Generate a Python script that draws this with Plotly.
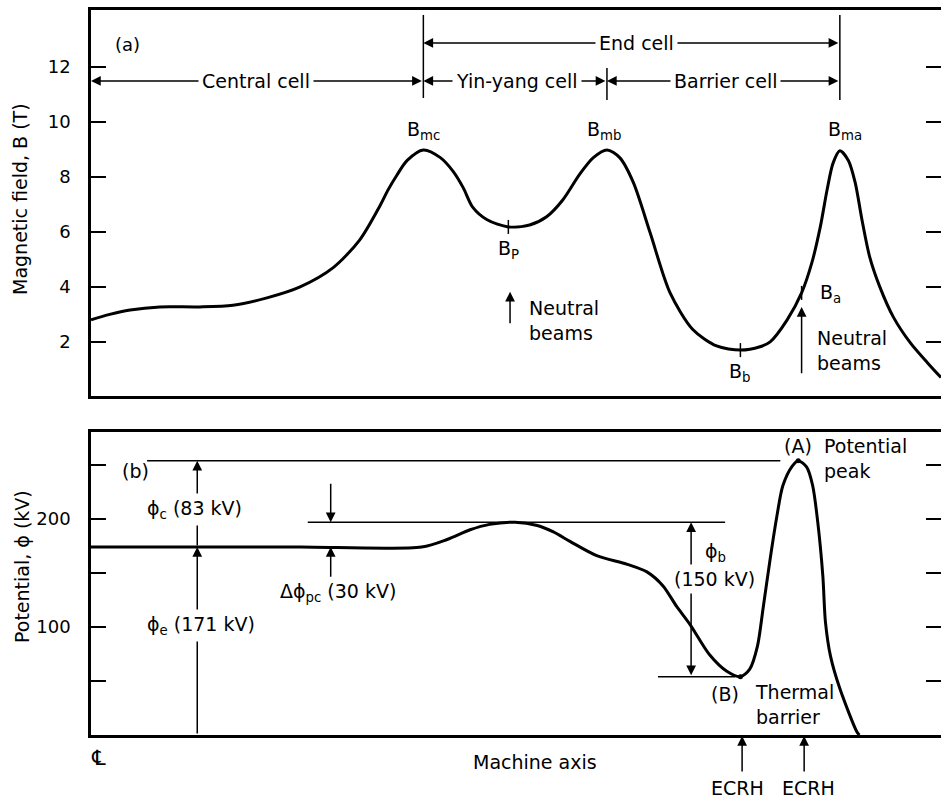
import plotly.graph_objects as go

FONT = "DejaVu Sans"

# ---------------- data ----------------
# machine-axis position (arbitrary units, 0 = centre line)
field_x = [0, 2.2, 4.6, 8.1, 12.8, 16.7, 20.7, 24.6, 28.5, 31.6, 34.0, 34.9, 36.0, 37.2,
           39.1, 41.1, 42.6, 43.8, 44.9, 46.6, 49.1, 51.6, 53.6, 55.5, 57.5, 59.1, 60.7,
           62.2, 63.8, 65.8, 68.1, 70.8, 73.6, 76.4, 78.7, 79.9, 81.9, 83.6, 84.8, 85.8,
           86.6, 87.3, 88.1, 89.1, 89.9, 90.7, 91.6, 92.8, 94.4, 96.4, 98.4, 100]
field_B = [2.8, 3.0, 3.16, 3.27, 3.27, 3.33, 3.6, 4.0, 4.7, 5.7, 6.95, 7.5, 8.07, 8.6,
           8.98, 8.7, 8.2, 7.6, 6.9, 6.44, 6.18, 6.25, 6.55, 7.16, 8.1, 8.7, 8.98,
           8.7, 7.8, 5.95, 3.8, 2.45, 1.85, 1.7, 1.82, 2.0, 2.8, 3.78, 4.87, 6.18,
           7.53, 8.5, 8.95, 8.6, 7.8, 6.44, 5.1, 4.0, 2.9, 1.96, 1.24, 0.7]

pot_x = [0, 12.8, 24.6, 38.9, 41.9, 44.6, 46.9, 49.9, 52.5, 54.4, 56.4, 59.5, 63.1, 65.4,
         67.3, 68.9, 70.5, 72.8, 74.8, 76.4, 77.5, 78.4, 79.1, 79.9, 80.7, 81.4, 82.5,
         83.2, 84.2, 84.9, 85.5, 86.1, 86.4, 87.0, 88.1, 90.1, 90.4]
pot_phi = [174, 174, 174, 174, 181, 190, 195, 197, 194, 188, 179, 166, 158, 151,
           138, 119, 102, 74, 59, 54, 61, 82, 119, 163, 203, 231, 249,
           254, 248, 231, 197, 147, 105, 73, 43, 3, 0]

# named points on the field profile
peak_labels = ["B<sub>mc</sub>", "B<sub>mb</sub>", "B<sub>ma</sub>"]
peak_x = [39.1, 60.7, 88.1]
peak_B = [8.98, 8.98, 8.95]
mark_labels = ["B<sub>P</sub>", "B<sub>b</sub>", "B<sub>a</sub>"]
mark_x = [49.1, 76.4, 83.6]
mark_B = [6.18, 1.7, 3.78]

# named points on the potential profile
pot_mark_x = [83.2, 76.4]
pot_mark_phi = [254, 54]

phi_peak, phi_plug, phi_central, phi_barrier = 254, 197, 174, 54

cells = ["Central cell", "Yin-yang cell", "Barrier cell"]
cell_edges = [0, 39.1, 60.7, 88.1]
beam_x = [49.3, 83.6]
ecrh_x = [76.6, 83.9]

B_ticks = [2, 4, 6, 8, 10, 12]
phi_ticks = [50, 100, 150, 200, 250]
phi_ticktext = ["", "100", "", "200", ""]

# ---------------- figure ----------------
W, H = 941, 798
def px(v):  # pixel x -> paper
    return v / W
def py(v):  # pixel y -> paper
    return 1 - v / H

x_dom = [px(91), 1.0]
top_dom = [py(396), py(10)]
bot_dom = [py(735), py(432)]
B_range = [0.03, 14.07]
phi_range = [0, 280.5]

fig = go.Figure()
curve = dict(color="black", width=3, shape="spline", smoothing=0.8)
fig.add_trace(go.Scatter(x=field_x, y=field_B, mode="lines", line=curve,
                         xaxis="x", yaxis="y", hoverinfo="skip"))
fig.add_trace(go.Scatter(x=mark_x, y=mark_B, mode="markers",
                         marker=dict(symbol="line-ns", size=10, color="black",
                                     line=dict(width=1.5, color="black")),
                         xaxis="x", yaxis="y", hoverinfo="skip"))
fig.add_trace(go.Scatter(x=pot_x, y=pot_phi, mode="lines", line=curve,
                         xaxis="x2", yaxis="y2", hoverinfo="skip"))
fig.add_trace(go.Scatter(x=pot_mark_x, y=pot_mark_phi, mode="markers",
                         marker=dict(symbol="circle", size=5, color="black"),
                         xaxis="x2", yaxis="y2", hoverinfo="skip"))
fig.add_trace(go.Scatter(x=[None], y=[None], xaxis="x", yaxis="y3", hoverinfo="skip"))
fig.add_trace(go.Scatter(x=[None], y=[None], xaxis="x2", yaxis="y4", hoverinfo="skip"))

xax = dict(range=[0, 100], showline=True, linewidth=2.5, linecolor="black", mirror=True,
           ticks="", showticklabels=False, showgrid=False, zeroline=False, domain=x_dom)
yax = dict(showline=True, linewidth=2.5, linecolor="black", ticks="inside", ticklen=15,
           tickwidth=2, tickcolor="black", showgrid=False, zeroline=False,
           tickfont=dict(family=FONT, size=18, color="black"), ticklabelstandoff=14)
yax_r = dict(showline=False, ticks="inside", ticklen=15, tickwidth=2, tickcolor="black",
             showticklabels=False, showgrid=False, zeroline=False, side="right")

fig.update_layout(
    width=W, height=H, margin=dict(l=0, r=0, t=0, b=0),
    paper_bgcolor="white", plot_bgcolor="white", showlegend=False,
    font=dict(family=FONT, size=19, color="black"),
    xaxis=dict(xax, anchor="y"),
    xaxis2=dict(xax, anchor="y2"),
    yaxis=dict(yax, domain=top_dom, range=B_range, tickvals=B_ticks, anchor="x"),
    yaxis2=dict(yax, domain=bot_dom, range=phi_range, tickvals=phi_ticks,
                ticktext=phi_ticktext, anchor="x2"),
    yaxis3=dict(yax_r, overlaying="y", range=B_range, tickvals=B_ticks, anchor="x"),
    yaxis4=dict(yax_r, overlaying="y2", range=phi_range, tickvals=phi_ticks, anchor="x2"),
)

ann = []
shapes = []

def text(x, y, t, xref="x", yref="y", xanchor="center", yanchor="middle", size=19,
         bg=None, angle=0, align="center"):
    d = dict(x=x, y=y, text=t, xref=xref, yref=yref, xanchor=xanchor, yanchor=yanchor,
             showarrow=False, font=dict(family=FONT, size=size, color="black"),
             textangle=angle, align=align)
    if bg:
        d.update(bgcolor=bg, borderpad=3)
    ann.append(d)

def arrow(x, y, ax, ay, xref="x", yref="y", double=False, pixel=False):
    d = dict(x=x, y=y, ax=ax, ay=ay, xref=xref, yref=yref, text="", showarrow=True,
             arrowhead=2, arrowsize=1.3, arrowwidth=1.5, arrowcolor="black",
             standoff=0, startstandoff=0)
    if double:
        d.update(arrowside="end+start", startarrowhead=2, startarrowsize=1.3)
    if not pixel:
        d.update(axref=xref, ayref=yref)
    ann.append(d)

def line(x0, y0, x1, y1, xref="x", yref="y", w=1.5):
    shapes.append(dict(type="line", x0=x0, y0=y0, x1=x1, y1=y1, xref=xref, yref=yref,
                       line=dict(color="black", width=w)))

# ---- panel (a) ----
text(2.6, 12.8, "(a)", xanchor="left", size=18)
row_end, row_cell = 12.87, 11.49
arrow(cell_edges[1], row_end, cell_edges[3], row_end, double=True)
text((cell_edges[1] + cell_edges[3]) / 2 + 0.6, row_end, "End cell", bg="white")
centres = [19.4, 50.1, 74.7]
for i, name in enumerate(cells):
    arrow(cell_edges[i], row_cell, cell_edges[i + 1], row_cell, double=True)
    text(centres[i], row_cell, name, bg="white")
line(cell_edges[1], 10.87, cell_edges[1], 13.89)
line(cell_edges[2], 10.8, cell_edges[2], 11.96)
line(cell_edges[3], 10.8, cell_edges[3], 13.89)

peak_lab_x = [39.1, 60.3, 88.7]
for lab, xx, yy in zip(peak_labels, peak_lab_x, peak_B):
    text(xx, yy + 0.72, lab)
text(mark_x[0], 5.35, mark_labels[0])
text(mark_x[1], 0.87, mark_labels[1])
text(85.5, 3.75, mark_labels[2], xanchor="left")

arrow(beam_x[0], 3.82, beam_x[0], 2.62)
text(51.3, 2.76, "Neutral<br>beams", xanchor="left", align="left")
arrow(beam_x[1], 3.27, beam_x[1], 0.8)
text(85.2, 1.67, "Neutral<br>beams", xanchor="left", align="left")

# ---- panel (b) ----
text(3.4, 244, "(b)", xref="x2", yref="y2", xanchor="left")
line(6.6, phi_peak, 81.1, phi_peak, "x2", "y2")
line(25.5, phi_plug, 74.6, phi_plug, "x2", "y2")
line(66.7, phi_barrier, 75.8, phi_barrier, "x2", "y2")

arrow(12.5, phi_peak, 12.5, phi_central, "x2", "y2")
arrow(12.5, phi_central, 12.5, 0, "x2", "y2")
text(6.1, 209, "ϕ<sub>c</sub> (83 kV)", "x2", "y2", xanchor="left", bg="white")
text(6.1, 101, "ϕ<sub>e</sub> (171 kV)", "x2", "y2", xanchor="left", bg="white")

arrow(28.2, phi_plug, 28.2, 234, "x2", "y2")
arrow(28.2, phi_central, 28.2, 145, "x2", "y2")
text(22.0, 132, "Δϕ<sub>pc</sub> (30 kV)", "x2", "y2", xanchor="left")

arrow(70.6, phi_plug, 70.6, phi_barrier, "x2", "y2", double=True)
text(72.0, 169, "ϕ<sub>b</sub>", "x2", "y2", xanchor="left")
text(73.4, 144, "(150 kV)", "x2", "y2", bg="white")

text(83.2, 267.6, "(A)", "x2", "y2")
text(86.0, 256, "Potential<br>peak", "x2", "y2", xanchor="left", align="left")
text(74.6, 38, "(B)", "x2", "y2")
text(77.9, 27.8, "Thermal<br>barrier", "x2", "y2", xanchor="left", align="left")

# ---- below the axis ----
text(px(98), py(758), "℄", "paper", "paper", size=21)
text(px(471), py(762), "Machine axis", "paper", "paper", xanchor="left")
for xx in ecrh_x:
    arrow(xx, py(736), 0, 37, "x2", "paper", pixel=True)
text(76.0, py(788), "ECRH", "x2", "paper")
text(84.4, py(788), "ECRH", "x2", "paper")

# ---- axis titles ----
text(px(20), py(199), "Magnetic field, B (T)", "paper", "paper", angle=-90)
text(px(22), py(567), "Potential, ϕ (kV)", "paper", "paper", angle=-90)

fig.update_layout(annotations=ann, shapes=shapes)
fig.write_html("out.html")
